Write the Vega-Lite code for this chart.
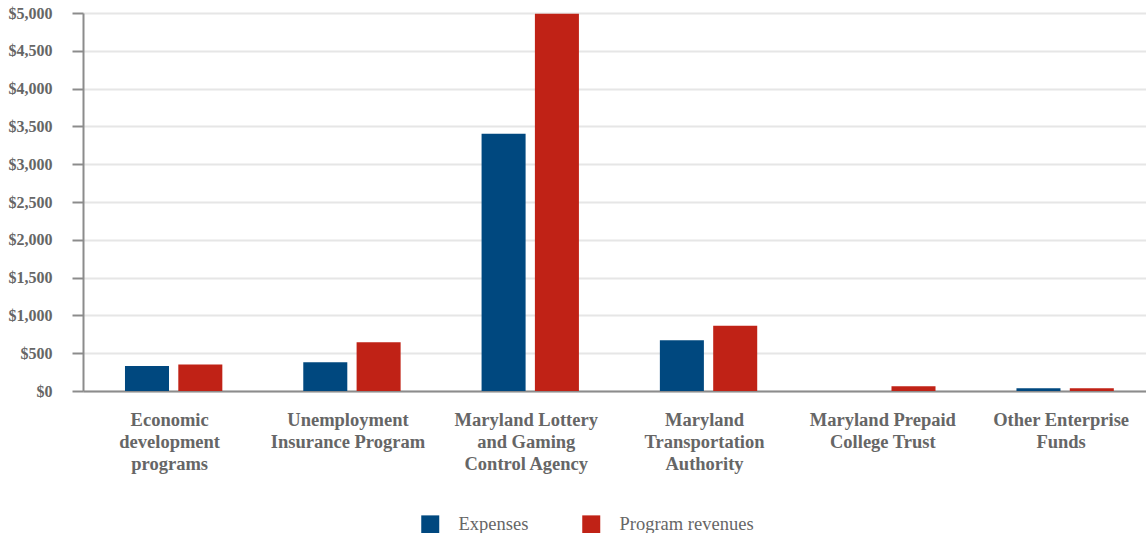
{
  "$schema": "https://vega.github.io/schema/vega-lite/v6.json",
  "width": 1063,
  "height": 378,
  "autosize": {"type": "none"},
  "padding": {"left": 83, "top": 13, "right": 0, "bottom": 142},
  "background": "white",
  "config": {
    "font": "Liberation Serif, Times New Roman, DejaVu Serif, serif",
    "view": {"stroke": null}
  },
  "data": {
    "values": [
      {"fund": "Economic development programs", "type": "Expenses", "amount": 331},
      {"fund": "Economic development programs", "type": "Program revenues", "amount": 352},
      {"fund": "Unemployment Insurance Program", "type": "Expenses", "amount": 380},
      {"fund": "Unemployment Insurance Program", "type": "Program revenues", "amount": 645},
      {"fund": "Maryland Lottery and Gaming Control Agency", "type": "Expenses", "amount": 3404},
      {"fund": "Maryland Lottery and Gaming Control Agency", "type": "Program revenues", "amount": 4990},
      {"fund": "Maryland Transportation Authority", "type": "Expenses", "amount": 672},
      {"fund": "Maryland Transportation Authority", "type": "Program revenues", "amount": 862},
      {"fund": "Maryland Prepaid College Trust", "type": "Expenses", "amount": 0},
      {"fund": "Maryland Prepaid College Trust", "type": "Program revenues", "amount": 62},
      {"fund": "Other Enterprise Funds", "type": "Expenses", "amount": 36},
      {"fund": "Other Enterprise Funds", "type": "Program revenues", "amount": 37}
    ]
  },
  "mark": {"type": "bar"},
  "encoding": {
    "x": {
      "field": "fund",
      "type": "nominal",
      "sort": null,
      "scale": {"paddingInner": 0.454, "paddingOuter": 0.208, "align": 0.566},
      "axis": {
        "title": null,
        "labelAngle": 0,
        "ticks": false,
        "domainColor": "#8c8c8c",
        "domainWidth": 2,
        "labelFont": "Liberation Serif, Times New Roman, DejaVu Serif, serif",
        "labelFontSize": 18.5,
        "labelFontWeight": "bold",
        "labelColor": "#666666",
        "labelPadding": 19,
        "labelOffset": -4,
        "labelLineHeight": 22,
        "labelLimit": 0,
        "labelExpr": "datum.label == 'Economic development programs' ? ['Economic','development','programs'] : datum.label == 'Unemployment Insurance Program' ? ['Unemployment','Insurance Program'] : datum.label == 'Maryland Lottery and Gaming Control Agency' ? ['Maryland Lottery','and Gaming','Control Agency'] : datum.label == 'Maryland Transportation Authority' ? ['Maryland','Transportation','Authority'] : datum.label == 'Maryland Prepaid College Trust' ? ['Maryland Prepaid','College Trust'] : ['Other Enterprise','Funds']"
      }
    },
    "xOffset": {
      "field": "type",
      "type": "nominal",
      "scale": {"paddingInner": 0.1745, "paddingOuter": 0}
    },
    "y": {
      "field": "amount",
      "type": "quantitative",
      "scale": {"domain": [0, 5000], "nice": false},
      "axis": {
        "title": null,
        "values": [0, 500, 1000, 1500, 2000, 2500, 3000, 3500, 4000, 4500, 5000],
        "labelExpr": "'$' + format(datum.value, ',')",
        "labelFont": "Liberation Serif, Times New Roman, DejaVu Serif, serif",
        "labelFontSize": 16,
        "labelFontWeight": "bold",
        "labelColor": "#666666",
        "labelPadding": 20,
        "tickSize": 11,
        "tickColor": "#8c8c8c",
        "tickWidth": 2,
        "domainColor": "#8c8c8c",
        "domainWidth": 2,
        "gridColor": "#e6e6e6",
        "gridWidth": 2
      }
    },
    "color": {
      "field": "type",
      "type": "nominal",
      "scale": {"domain": ["Expenses", "Program revenues"], "range": ["#00487f", "#c02216"]},
      "legend": {
        "title": null,
        "orient": "none",
        "direction": "horizontal",
        "legendX": 338,
        "legendY": 502,
        "padding": 0,
        "symbolType": "square",
        "symbolSize": 324,
        "symbolStrokeWidth": 0,
        "symbolOpacity": 1,
        "labelOffset": 19,
        "columnPadding": 53,
        "labelFont": "Liberation Serif, Times New Roman, DejaVu Serif, serif",
        "labelFontSize": 18.5,
        "labelColor": "#666666"
      }
    }
  }
}
